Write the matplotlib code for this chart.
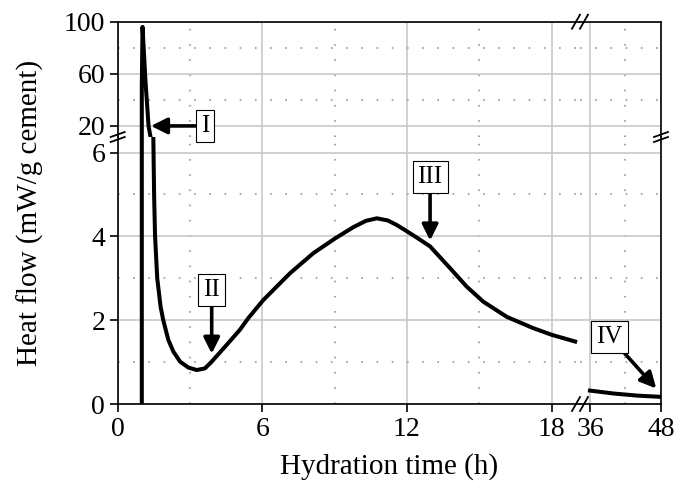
import matplotlib
matplotlib.use("Agg")
import matplotlib.pyplot as plt
from matplotlib.lines import Line2D

plt.rcParams['font.family'] = ['Liberation Serif', 'DejaVu Serif']

# heat flow curve, first 19 h (mW/g cement)
time_h = [1.0, 1.0, 1.03, 1.15, 1.28, 1.38, 1.48, 1.51, 1.55, 1.64, 1.78, 1.89,
          2.10, 2.31, 2.59, 2.93, 3.28, 3.62, 3.90, 4.52, 5.07, 5.42, 6.04,
          7.15, 8.12, 9.02, 9.78, 10.3, 10.75, 11.2, 11.58, 12.0, 12.41,
          12.96, 13.79, 14.48, 15.17, 16.14, 17.24, 18.01, 18.98]
flow = [0.0, 50.0, 96.0, 55.0, 20.0, 9.5, 6.3, 5.0, 4.0, 3.0, 2.32, 2.0,
        1.53, 1.25, 1.01, 0.87, 0.81, 0.85, 1.01, 1.41, 1.77, 2.05, 2.48,
        3.12, 3.60, 3.95, 4.22, 4.37, 4.43, 4.38, 4.27, 4.12, 3.97,
        3.76, 3.24, 2.80, 2.44, 2.08, 1.81, 1.65, 1.49]
# late period
time_late = [36, 40, 44, 48]
flow_late = [0.32, 0.25, 0.2, 0.17]

W, H = 676, 487
fig = plt.figure(figsize=(W / 100, H / 100), dpi=100)

x0, xb, x1 = 117.7 / W, 580 / W, 661 / W
y0, yb, y1 = 1 - 404 / H, 1 - 137 / H, 1 - 21.7 / H

ax_tl = fig.add_axes([x0, yb, xb - x0, y1 - yb])
ax_tr = fig.add_axes([xb, yb, x1 - xb, y1 - yb])
ax_bl = fig.add_axes([x0, y0, xb - x0, yb - y0])
ax_br = fig.add_axes([xb, y0, x1 - xb, yb - y0])
axes = [ax_tl, ax_tr, ax_bl, ax_br]

grid_major = dict(color='#c8c8c8', lw=1.2, ls='-')
grid_minor = dict(color='#aaaaaa', lw=1.5, ls=(0, (0.8, 6.5)))

for ax in axes:
    ax.patch.set_visible(False)
    ax.set_axisbelow(True)
    for s in ax.spines.values():
        s.set_linewidth(1.2)
    ax.tick_params(which='major', direction='out', length=6, width=1.2,
                   labelsize=20, pad=3)
    ax.tick_params(which='minor', length=0)
    ax.grid(True, which='major', **grid_major)
    ax.grid(True, which='minor', **grid_minor)

for ax in (ax_tl, ax_bl):
    ax.set_xlim(0, 19.18)
    ax.set_xticks([0, 6, 12, 18])
    ax.set_xticks([3, 9, 15], minor=True)
    ax.spines['right'].set_visible(False)
    ax.plot(time_h, flow, color='k', lw=2.9, solid_joinstyle='round')

for ax in (ax_tr, ax_br):
    ax.set_xlim(34.31, 48)
    ax.set_xticks([36, 48])
    ax.set_xticks([42], minor=True)
    ax.spines['left'].set_visible(False)
    ax.tick_params(axis='y', which='both', left=False, labelleft=False)
    ax.plot(time_late, flow_late, color='k', lw=2.9)

for ax in (ax_tl, ax_tr):
    ax.set_ylim(11.5, 100)
    ax.set_yticks([20, 60, 100])
    ax.set_yticks([40, 80], minor=True)
    ax.spines['bottom'].set_visible(False)
    ax.tick_params(axis='x', which='both', bottom=False, labelbottom=False)

for ax in (ax_bl, ax_br):
    ax.set_ylim(0, 6.37)
    ax.set_yticks([0, 2, 4, 6])
    ax.set_yticks([1, 3, 5], minor=True)
    ax.spines['top'].set_visible(False)

box = dict(boxstyle='square,pad=0.2', fc='white', ec='k', lw=0.8)
arrow = dict(arrowstyle='-|>', lw=2.6, color='k', mutation_scale=24,
             shrinkA=0, shrinkB=0)

ax_tl.annotate('I', xy=(1.38, 20), xytext=(3.62, 20), fontsize=18,
               ha='center', va='center', bbox=box, arrowprops=arrow,
               annotation_clip=False, zorder=5)
ax_bl.annotate('II', xy=(3.9, 1.2), xytext=(3.9, 2.72), fontsize=18,
               ha='center', va='center', bbox=box, arrowprops=arrow, zorder=5)
ax_bl.annotate('III', xy=(12.96, 3.9), xytext=(12.96, 5.42), fontsize=18,
               ha='center', va='center', bbox=box, arrowprops=arrow, zorder=5)
ax_br.annotate('IV', xy=(47.2, 0.37), xytext=(39.3, 1.61), fontsize=18,
               ha='center', va='center', bbox=box, arrowprops=arrow, zorder=5)


# break marks "//"
def slashes(xc, yc, dx, dy, sep_x, sep_y):
    for k in (-1, 1):
        cx = xc + k * sep_x / 2
        cy = yc + k * sep_y / 2
        fig.add_artist(Line2D([(cx - dx) / W, (cx + dx) / W],
                              [1 - (cy + dy) / H, 1 - (cy - dy) / H],
                              color='k', lw=1.3))


slashes(580, 21.7, 4, 7, 8, 0)
slashes(580, 404, 4, 7, 8, 0)
slashes(117.7, 137, 7, 2.5, 0, 5)
slashes(661, 137, 7, 2.5, 0, 5)

fig.text(0.5 * (x0 + x1), 1 - 467 / H, 'Hydration time (h)', ha='center',
         va='center', fontsize=21)
fig.text(30 / W, 0.5 * (y0 + y1), 'Heat flow (mW/g cement)', ha='center',
         va='center', rotation=90, fontsize=21)

fig.savefig('out.png', dpi=100)
